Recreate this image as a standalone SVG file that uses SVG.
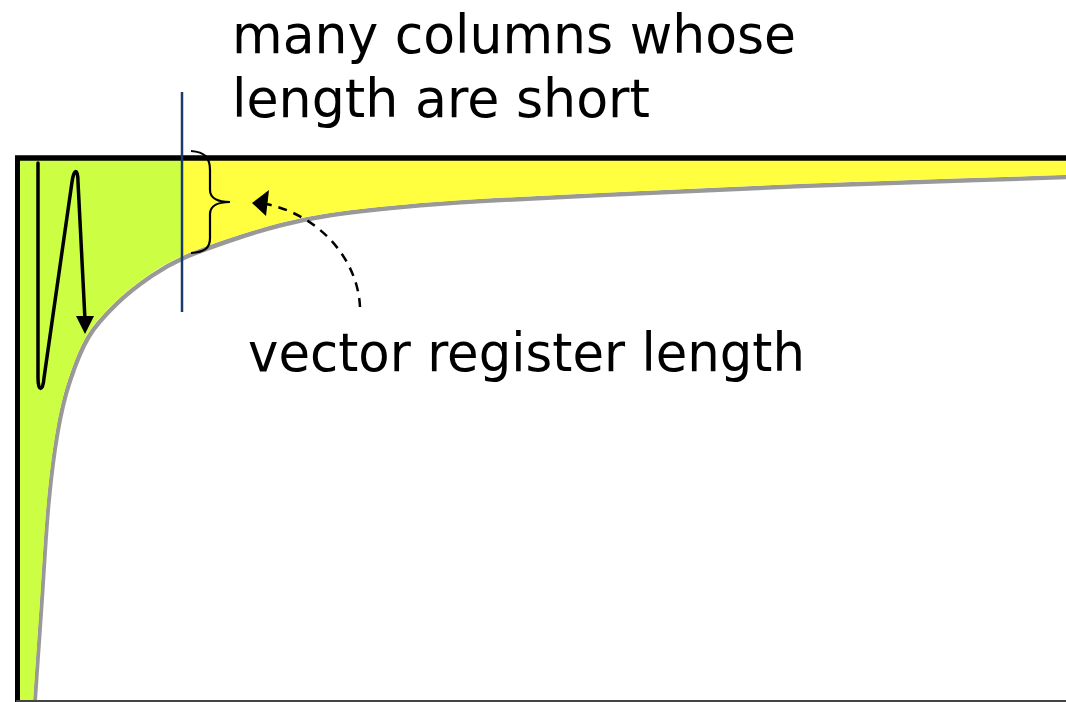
<svg xmlns="http://www.w3.org/2000/svg" width="1066" height="702" viewBox="0 0 1066 702">
<style>
.lbl{font-family:"DejaVu Sans","Verdana",sans-serif;font-size:54px;fill:#000}
.ln{fill:none;stroke:#000;stroke-width:3.5;stroke-linecap:round;stroke-linejoin:round}
</style>
<defs>
<path id="crv" d="M 33 702 C 35.3 668 37.7 633.7 40 600 C 42.3 566.3 44.3 528.3 47 500 C 49.7 471.7 52.5 450 56 430 C 59.5 410 62.8 395.8 68 380 C 73.2 364.2 79.2 348 87 335 C 94.8 322 104.5 312.2 115 302 C 125.5 291.8 138.8 281.7 150 274 C 161.2 266.3 168.7 262 182 256 C 195.3 250 213.7 243.5 230 238 C 246.3 232.5 263.3 227.2 280 223 C 296.7 218.8 310 216 330 213 C 350 210 375 207.3 400 205 C 425 202.7 446.7 201 480 199 C 513.3 197 546.7 195.5 600 193 C 653.3 190.5 722.3 187 800 184 C 877.7 181 977.3 178 1066 175"/>
<path id="region" d="M 20 702 L 33 702 C 35.3 668 37.7 633.7 40 600 C 42.3 566.3 44.3 528.3 47 500 C 49.7 471.7 52.5 450 56 430 C 59.5 410 62.8 395.8 68 380 C 73.2 364.2 79.2 348 87 335 C 94.8 322 104.5 312.2 115 302 C 125.5 291.8 138.8 281.7 150 274 C 161.2 266.3 168.7 262 182 256 C 195.3 250 213.7 243.5 230 238 C 246.3 232.5 263.3 227.2 280 223 C 296.7 218.8 310 216 330 213 C 350 210 375 207.3 400 205 C 425 202.7 446.7 201 480 199 C 513.3 197 546.7 195.5 600 193 C 653.3 190.5 722.3 187 800 184 C 877.7 181 977.3 178 1066 175 L 1066 158 L 20 158 Z"/>
<clipPath id="leftClip"><rect x="0" y="0" width="182" height="702"/></clipPath>
</defs>
<rect width="1066" height="702" fill="#fff"/>
<g id="area">
<use href="#crv" transform="translate(1.5,2)" fill="none" stroke="#999" stroke-width="4.5"/>
<use href="#region" fill="#ffff40"/>
<use href="#region" clip-path="url(#leftClip)" fill="#ccff44"/>
</g>
<g id="frame">
<line x1="15" y1="158" x2="1066" y2="158" stroke="#000" stroke-width="5.5"/>
<line x1="17.5" y1="156" x2="17.5" y2="702" stroke="#000" stroke-width="5"/>
<line x1="16" y1="701" x2="1066" y2="701" stroke="#444" stroke-width="2"/>
</g>
<g id="divider">
<line x1="182" y1="92" x2="182" y2="312" stroke="#1a3a6b" stroke-width="2.5"/>
</g>
<g id="brace">
<path d="M 191 151 C 205 152, 210 158, 210 170 L 210 190 C 210 198, 218 202, 230 202 C 218 202, 210 206, 210 214 L 210 238 C 210 248, 205 252, 191 253" fill="none" stroke="#000" stroke-width="2.2"/>
</g>
<g id="connectors">
<path d="M 360 307 C 358 260, 320 215, 266 204" fill="none" stroke="#000" stroke-width="2.5" stroke-dasharray="9,7"/>
<polygon points="252,203 269,190 266,216" fill="#000"/>
<path class="ln" d="M 38 163 L 38 378 C 38 392, 43 392, 44 378 L 72 182 C 74 168, 78 168, 78 182 L 85 320"/>
<polygon points="85,334 76,316 94,316" fill="#000"/>
</g>
<g id="labels">
<text class="lbl" x="232" y="53" textLength="564" lengthAdjust="spacingAndGlyphs">many columns whose</text>
<text class="lbl" x="232" y="117" textLength="418" lengthAdjust="spacingAndGlyphs">length are short</text>
<text class="lbl" x="248" y="371" textLength="557" lengthAdjust="spacingAndGlyphs">vector register length</text>
</g>
</svg>
